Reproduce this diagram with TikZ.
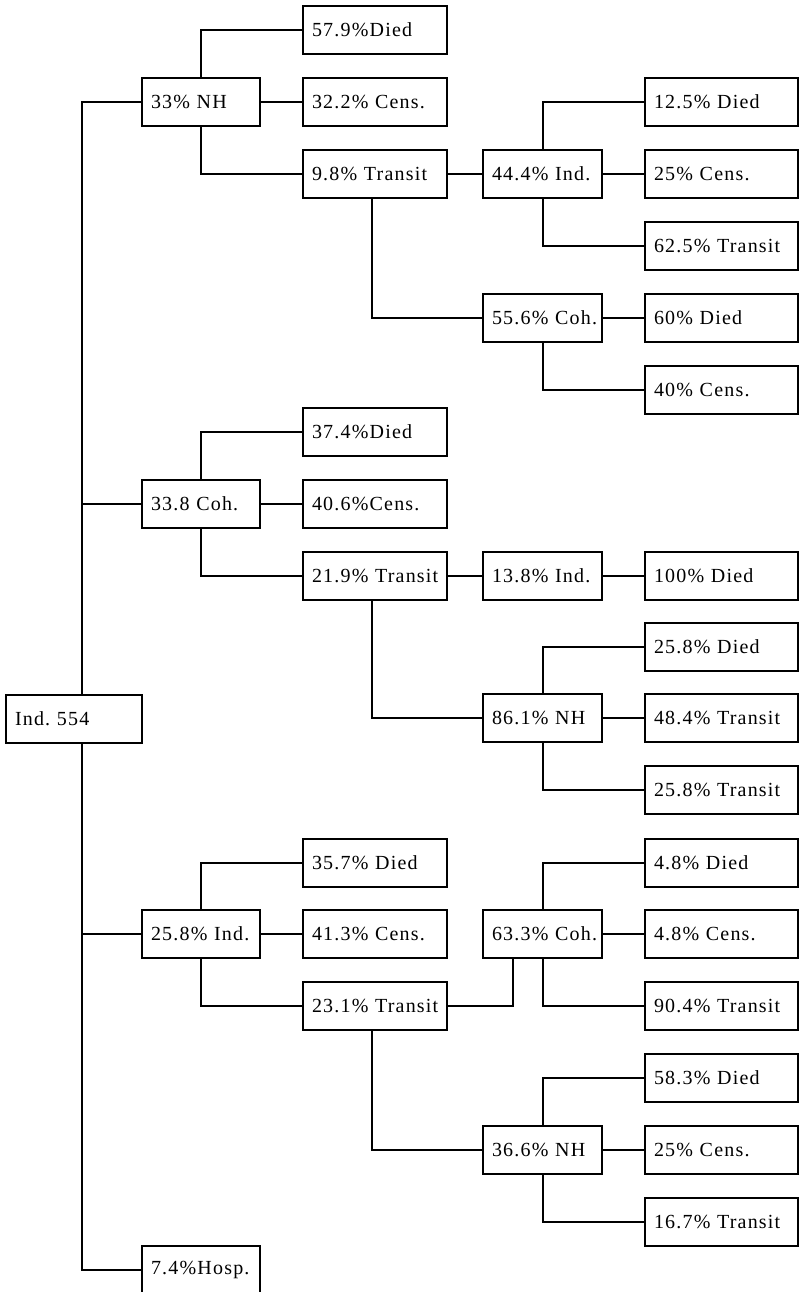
\documentclass[tikz,border=0pt]{standalone}
\usepackage{fontspec}
\setmainfont{Liberation Serif}[LetterSpace=6]
\usepackage{tikz}

\begin{document}
\begin{tikzpicture}[x=0.75pt,y=-0.75pt,line width=1.5pt,
  cell/.style={draw,rectangle,anchor=west,minimum height=36pt,inner xsep=6.75pt,inner ysep=0pt,align=left,font=\fontsize{15}{18}\selectfont},
  rootbox/.style={cell,text width=88.5pt},
  lvlone/.style={cell,text width=75pt},
  lvltwo/.style={cell,text width=94.5pt},
  lvlthree/.style={cell,text width=75.75pt},
  lvlfour/.style={cell,text width=101.25pt}]
\useasboundingbox (0,0) rectangle (799,1292);
\node [rootbox] (root) at (5,719) {Ind.~554};
\node [lvlone] (nh) at (141,102) {33\%~NH};
\node [lvlone] (coh) at (141,504) {33.8~Coh.};
\node [lvlone] (ind) at (141,934) {25.8\%~Ind.};
\node [lvlone] (hosp) at (141,1270) {7.4\%Hosp.};
\node [lvltwo] (nhd) at (302,30) {57.9\%Died};
\node [lvltwo] (nhc) at (302,102) {32.2\%~Cens.};
\node [lvltwo] (nht) at (302,174) {9.8\%~Transit};
\node [lvltwo] (cohd) at (302,432) {37.4\%Died};
\node [lvltwo] (cohc) at (302,504) {40.6\%Cens.};
\node [lvltwo] (coht) at (302,576) {21.9\%~Transit};
\node [lvltwo] (indd) at (302,863) {35.7\%~Died};
\node [lvltwo] (indc) at (302,934) {41.3\%~Cens.};
\node [lvltwo] (indt) at (302,1006) {23.1\%~Transit};
\node [lvlthree] (ntind) at (482,174) {44.4\%~Ind.};
\node [lvlthree] (ntcoh) at (482,318) {55.6\%~Coh.};
\node [lvlthree] (ctind) at (482,576) {13.8\%~Ind.};
\node [lvlthree] (ctnh) at (482,718) {86.1\%~NH};
\node [lvlthree] (itcoh) at (482,934) {63.3\%~Coh.};
\node [lvlthree] (itnh) at (482,1150) {36.6\%~NH};
\node [lvlfour] (ntindd) at (644,102) {12.5\%~Died};
\node [lvlfour] (ntindc) at (644,174) {25\%~Cens.};
\node [lvlfour] (ntindt) at (644,246) {62.5\%~Transit};
\node [lvlfour] (ntcohd) at (644,318) {60\%~Died};
\node [lvlfour] (ntcohc) at (644,390) {40\%~Cens.};
\node [lvlfour] (ctindd) at (644,576) {100\%~Died};
\node [lvlfour] (ctnhd) at (644,647) {25.8\%~Died};
\node [lvlfour] (ctnht) at (644,718) {48.4\%~Transit};
\node [lvlfour] (ctnhs) at (644,790) {25.8\%~Transit};
\node [lvlfour] (itcohd) at (644,863) {4.8\%~Died};
\node [lvlfour] (itcohc) at (644,934) {4.8\%~Cens.};
\node [lvlfour] (itcoht) at (644,1006) {90.4\%~Transit};
\node [lvlfour] (itnhd) at (644,1078) {58.3\%~Died};
\node [lvlfour] (itnhc) at (644,1150) {25\%~Cens.};
\node [lvlfour] (itnht) at (644,1222) {16.7\%~Transit};
\draw ([xshift=6pt]root.north) |- (nh.west);
\draw ([xshift=6pt]root.north) |- (coh.west);
\draw ([xshift=6pt]root.south) |- (ind.west);
\draw ([xshift=6pt]root.south) |- (hosp.west);
\draw (nh.north) |- (nhd.west);
\draw (nh.east) -- (nhc.west);
\draw (nh.south) |- (nht.west);
\draw (coh.north) |- (cohd.west);
\draw (coh.east) -- (cohc.west);
\draw (coh.south) |- (coht.west);
\draw (ind.north) |- (indd.west);
\draw (ind.east) -- (indc.west);
\draw (ind.south) |- (indt.west);
\draw (nht.east) -- (ntind.west);
\draw ([xshift=-2.25pt]nht.south) |- (ntcoh.west);
\draw (coht.east) -- (ctind.west);
\draw ([xshift=-2.25pt]coht.south) |- (ctnh.west);
\draw (indt.east) -| ([xshift=-22pt]itcoh.south);
\draw ([xshift=-2.25pt]indt.south) |- (itnh.west);
\draw (ntind.north) |- (ntindd.west);
\draw (ntind.east) -- (ntindc.west);
\draw (ntind.south) |- (ntindt.west);
\draw (ntcoh.east) -- (ntcohd.west);
\draw (ntcoh.south) |- (ntcohc.west);
\draw (ctind.east) -- (ctindd.west);
\draw (ctnh.north) |- (ctnhd.west);
\draw (ctnh.east) -- (ctnht.west);
\draw (ctnh.south) |- (ctnhs.west);
\draw (itcoh.north) |- (itcohd.west);
\draw (itcoh.east) -- (itcohc.west);
\draw (itcoh.south) |- (itcoht.west);
\draw (itnh.north) |- (itnhd.west);
\draw (itnh.east) -- (itnhc.west);
\draw (itnh.south) |- (itnht.west);
\end{tikzpicture}
\end{document}
